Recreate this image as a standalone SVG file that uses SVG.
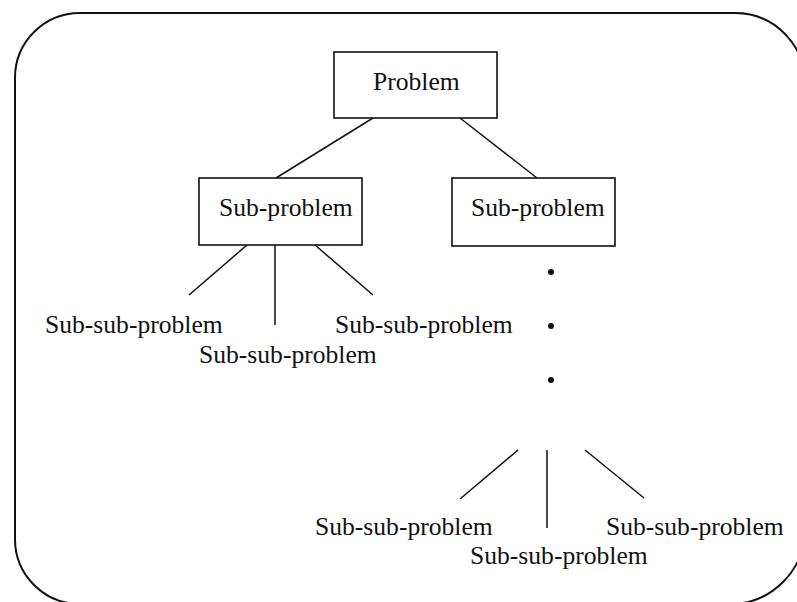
<svg xmlns="http://www.w3.org/2000/svg" width="797" height="602" viewBox="0 0 797 602">
<style>
.frame{fill:none;stroke:#111;stroke-width:2}
.box{fill:#fff;stroke:#111;stroke-width:1.6}
.ln{stroke:#111;stroke-width:1.5;fill:none}
.t{font-family:"Liberation Serif","Times New Roman",serif;font-size:25.6px;fill:#111}
.dot{fill:#111}
</style>
<rect width="797" height="602" fill="#fff"/>
<path class="frame" d="M 15 539 L 15 78 A 65 65 0 0 1 80 13 L 735 13 A 70 70 0 0 1 805 83 L 805 529 A 75 75 0 0 1 730 604 L 80 604 A 65 65 0 0 1 15 539"/>
<g id="connectors">
<line class="ln" x1="373" y1="118" x2="276" y2="178"/>
<line class="ln" x1="460" y1="118" x2="537" y2="178"/>
<line class="ln" x1="247" y1="245" x2="189" y2="295"/>
<line class="ln" x1="275" y1="245" x2="275" y2="325"/>
<line class="ln" x1="315" y1="245" x2="373" y2="295"/>
<line class="ln" x1="518" y1="450" x2="460" y2="499"/>
<line class="ln" x1="547" y1="450" x2="547" y2="528"/>
<line class="ln" x1="585" y1="450" x2="644" y2="498"/>
<circle class="dot" cx="551" cy="272" r="3"/>
<circle class="dot" cx="551" cy="326" r="3"/>
<circle class="dot" cx="551" cy="380" r="3"/>
</g>
<g id="problem">
<rect class="box" x="334" y="52" width="163" height="66"/>
<text class="t" x="373" y="90">Problem</text>
</g>
<g id="sub1">
<rect class="box" x="199" y="178" width="163" height="67"/>
<text class="t" x="219" y="216">Sub-problem</text>
</g>
<g id="sub2">
<rect class="box" x="452" y="178" width="163" height="68"/>
<text class="t" x="471" y="216">Sub-problem</text>
</g>
<g id="ss1"><text class="t" x="45" y="333">Sub-sub-problem</text></g>
<g id="ss2"><text class="t" x="199" y="363">Sub-sub-problem</text></g>
<g id="ss3"><text class="t" x="335" y="333">Sub-sub-problem</text></g>
<g id="ss4"><text class="t" x="315" y="535">Sub-sub-problem</text></g>
<g id="ss5"><text class="t" x="470" y="564">Sub-sub-problem</text></g>
<g id="ss6"><text class="t" x="606" y="535">Sub-sub-problem</text></g>
</svg>
